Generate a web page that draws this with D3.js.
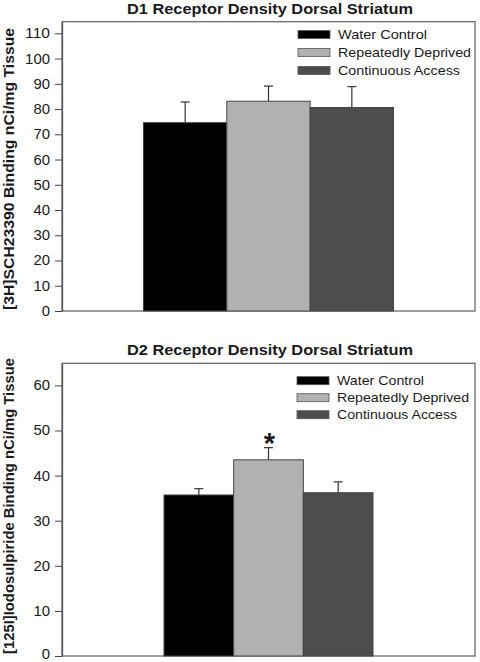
<!DOCTYPE html>
<html><head><meta charset="utf-8">
<script src="https://cdn.jsdelivr.net/npm/d3@7"></script>
<style>body{margin:0;background:#fff}svg{display:block}text{font-family:"Liberation Sans",Arial,sans-serif;fill:#1a1a1a}</style>
</head><body><svg id="c" width="480" height="662"></svg>
<script>
const series = ["Water Control", "Repeatedly Deprived", "Continuous Access"];
const colors = ["#000000", "#b1b1b1", "#4d4d4d"];
const d1Values = [74.6, 83.1, 80.6];
const d1Errors = [8.2, 6.0, 8.3];
const d2Values = [35.7, 43.5, 36.2];
const d2Errors = [1.4, 2.7, 2.4];
const d1Ticks = [0,10,20,30,40,50,60,70,80,90,100,110];
const d2Ticks = [0,10,20,30,40,50,60];
const titles = ["D1 Receptor Density Dorsal Striatum", "D2 Receptor Density Dorsal Striatum"];
const yTitles = ["[3H]SCH23390 Binding nCi/mg Tissue", "[125I]Iodosulpiride Binding nCi/mg Tissue"];
const signif = ["", "*"];

const svg = d3.select("#c");

function panel(cfg){
  const g = svg.append("g");
  const x = d3.scaleBand().domain(series).range([cfg.left, cfg.right]).paddingInner(0).paddingOuter(cfg.po);
  const y = d3.scaleLinear().domain([0, cfg.max]).range([cfg.bottom, cfg.top]);
  // title
  g.append("text").attr("x", cfg.tx).attr("y", cfg.ty).attr("text-anchor","middle")
    .attr("font-size", 15).attr("font-weight","bold")
    .attr("textLength", 286).attr("lengthAdjust","spacingAndGlyphs").text(cfg.title);
  // y title
  g.append("text").attr("transform", `translate(${cfg.ytx},${cfg.yty}) rotate(-90)`)
    .attr("text-anchor","middle").attr("font-size", 14).attr("font-weight","bold")
    .attr("textLength", cfg.ylen).attr("lengthAdjust","spacingAndGlyphs").text(cfg.ytitle);
  // frame
  g.append("rect").attr("x", cfg.left).attr("y", y(cfg.max)).attr("width", cfg.right-cfg.left)
    .attr("height", cfg.bottom - y(cfg.max)).attr("fill","none").attr("stroke","#6a6a6a").attr("stroke-width",1.3);
  // axis
  const ax = g.append("g").attr("transform", `translate(${cfg.left},0)`)
    .call(d3.axisLeft(y).tickValues(cfg.ticks).tickSize(7).tickPadding(5).tickSizeOuter(0));
  ax.select(".domain").attr("stroke","#555").attr("stroke-width",1.3);
  ax.selectAll(".tick line").attr("stroke","#444");
  ax.selectAll(".tick text").attr("font-size", 14).attr("fill","#222")
    .style("font-family", '"Liberation Sans",Arial,sans-serif')
    .attr("textLength", d => String(d).length * 8.3).attr("lengthAdjust","spacingAndGlyphs")
    .attr("dy", d => d === 0 && cfg.nudge0 ? "0.15em" : "0.32em");
  // bars
  g.selectAll("rect.bar").data(series).join("rect").attr("class","bar")
    .attr("x", d => x(d)).attr("width", x.bandwidth())
    .attr("y", (d,i) => y(cfg.values[i])).attr("height", (d,i) => cfg.bottom - y(cfg.values[i]))
    .attr("fill", (d,i) => colors[i]).attr("stroke", "#444").attr("stroke-width", 1);
  // error bars
  const cap = 4.5;
  series.forEach((s,i) => {
    const cx = x(s) + x.bandwidth()/2;
    const y0 = y(cfg.values[i]), y1 = y(cfg.values[i] + cfg.errors[i]);
    g.append("line").attr("x1",cx).attr("x2",cx).attr("y1",y0).attr("y2",y1).attr("stroke","#333").attr("stroke-width",1.2);
    g.append("line").attr("x1",cx-cap).attr("x2",cx+cap).attr("y1",y1).attr("y2",y1).attr("stroke","#333").attr("stroke-width",1.2);
    if (cfg.sig[i]) {
      g.append("text").attr("x", cx+1).attr("y", y1 + 5).attr("text-anchor","middle")
        .attr("font-size", 29).attr("font-weight","bold").text(cfg.sig[i]);
    }
  });
  // legend
  series.forEach((s,i) => {
    const ly = cfg.ly + i*cfg.lstep;
    g.append("rect").attr("x", cfg.lx).attr("y", ly-4).attr("width", 32).attr("height", 8)
      .attr("fill", colors[i]).attr("stroke","#555").attr("stroke-width",0.8);
    g.append("text").attr("x", cfg.lx+40).attr("y", ly+4.5).attr("font-size", 13.5)
      .attr("textLength", cfg.lw[i]).attr("lengthAdjust","spacingAndGlyphs").text(s);
  });
}

panel({title: titles[0], ytitle: yTitles[0], tx: 270, ty: 13.5, ytx: 14, yty: 169, ylen: 282,
  left: 62, right: 475, top: 21.7, bottom: 311, max: 114.6, ticks: d1Ticks, po: 0.978,
  values: d1Values, errors: d1Errors, sig: ["", "", ""], lx: 298, ly: 34.5, lstep: 18, lw: [89, 133, 122]});
panel({title: titles[1], ytitle: yTitles[1], tx: 270, ty: 354.5, ytx: 14, yty: 506, ylen: 296,
  left: 62, right: 475, top: 363.3, bottom: 656, max: 64.9, ticks: d2Ticks, po: 1.464, nudge0: true,
  values: d2Values, errors: d2Errors, sig: ["", "*", ""], lx: 297, ly: 380.7, lstep: 17, lw: [87, 132, 120]});
</script></body></html>
